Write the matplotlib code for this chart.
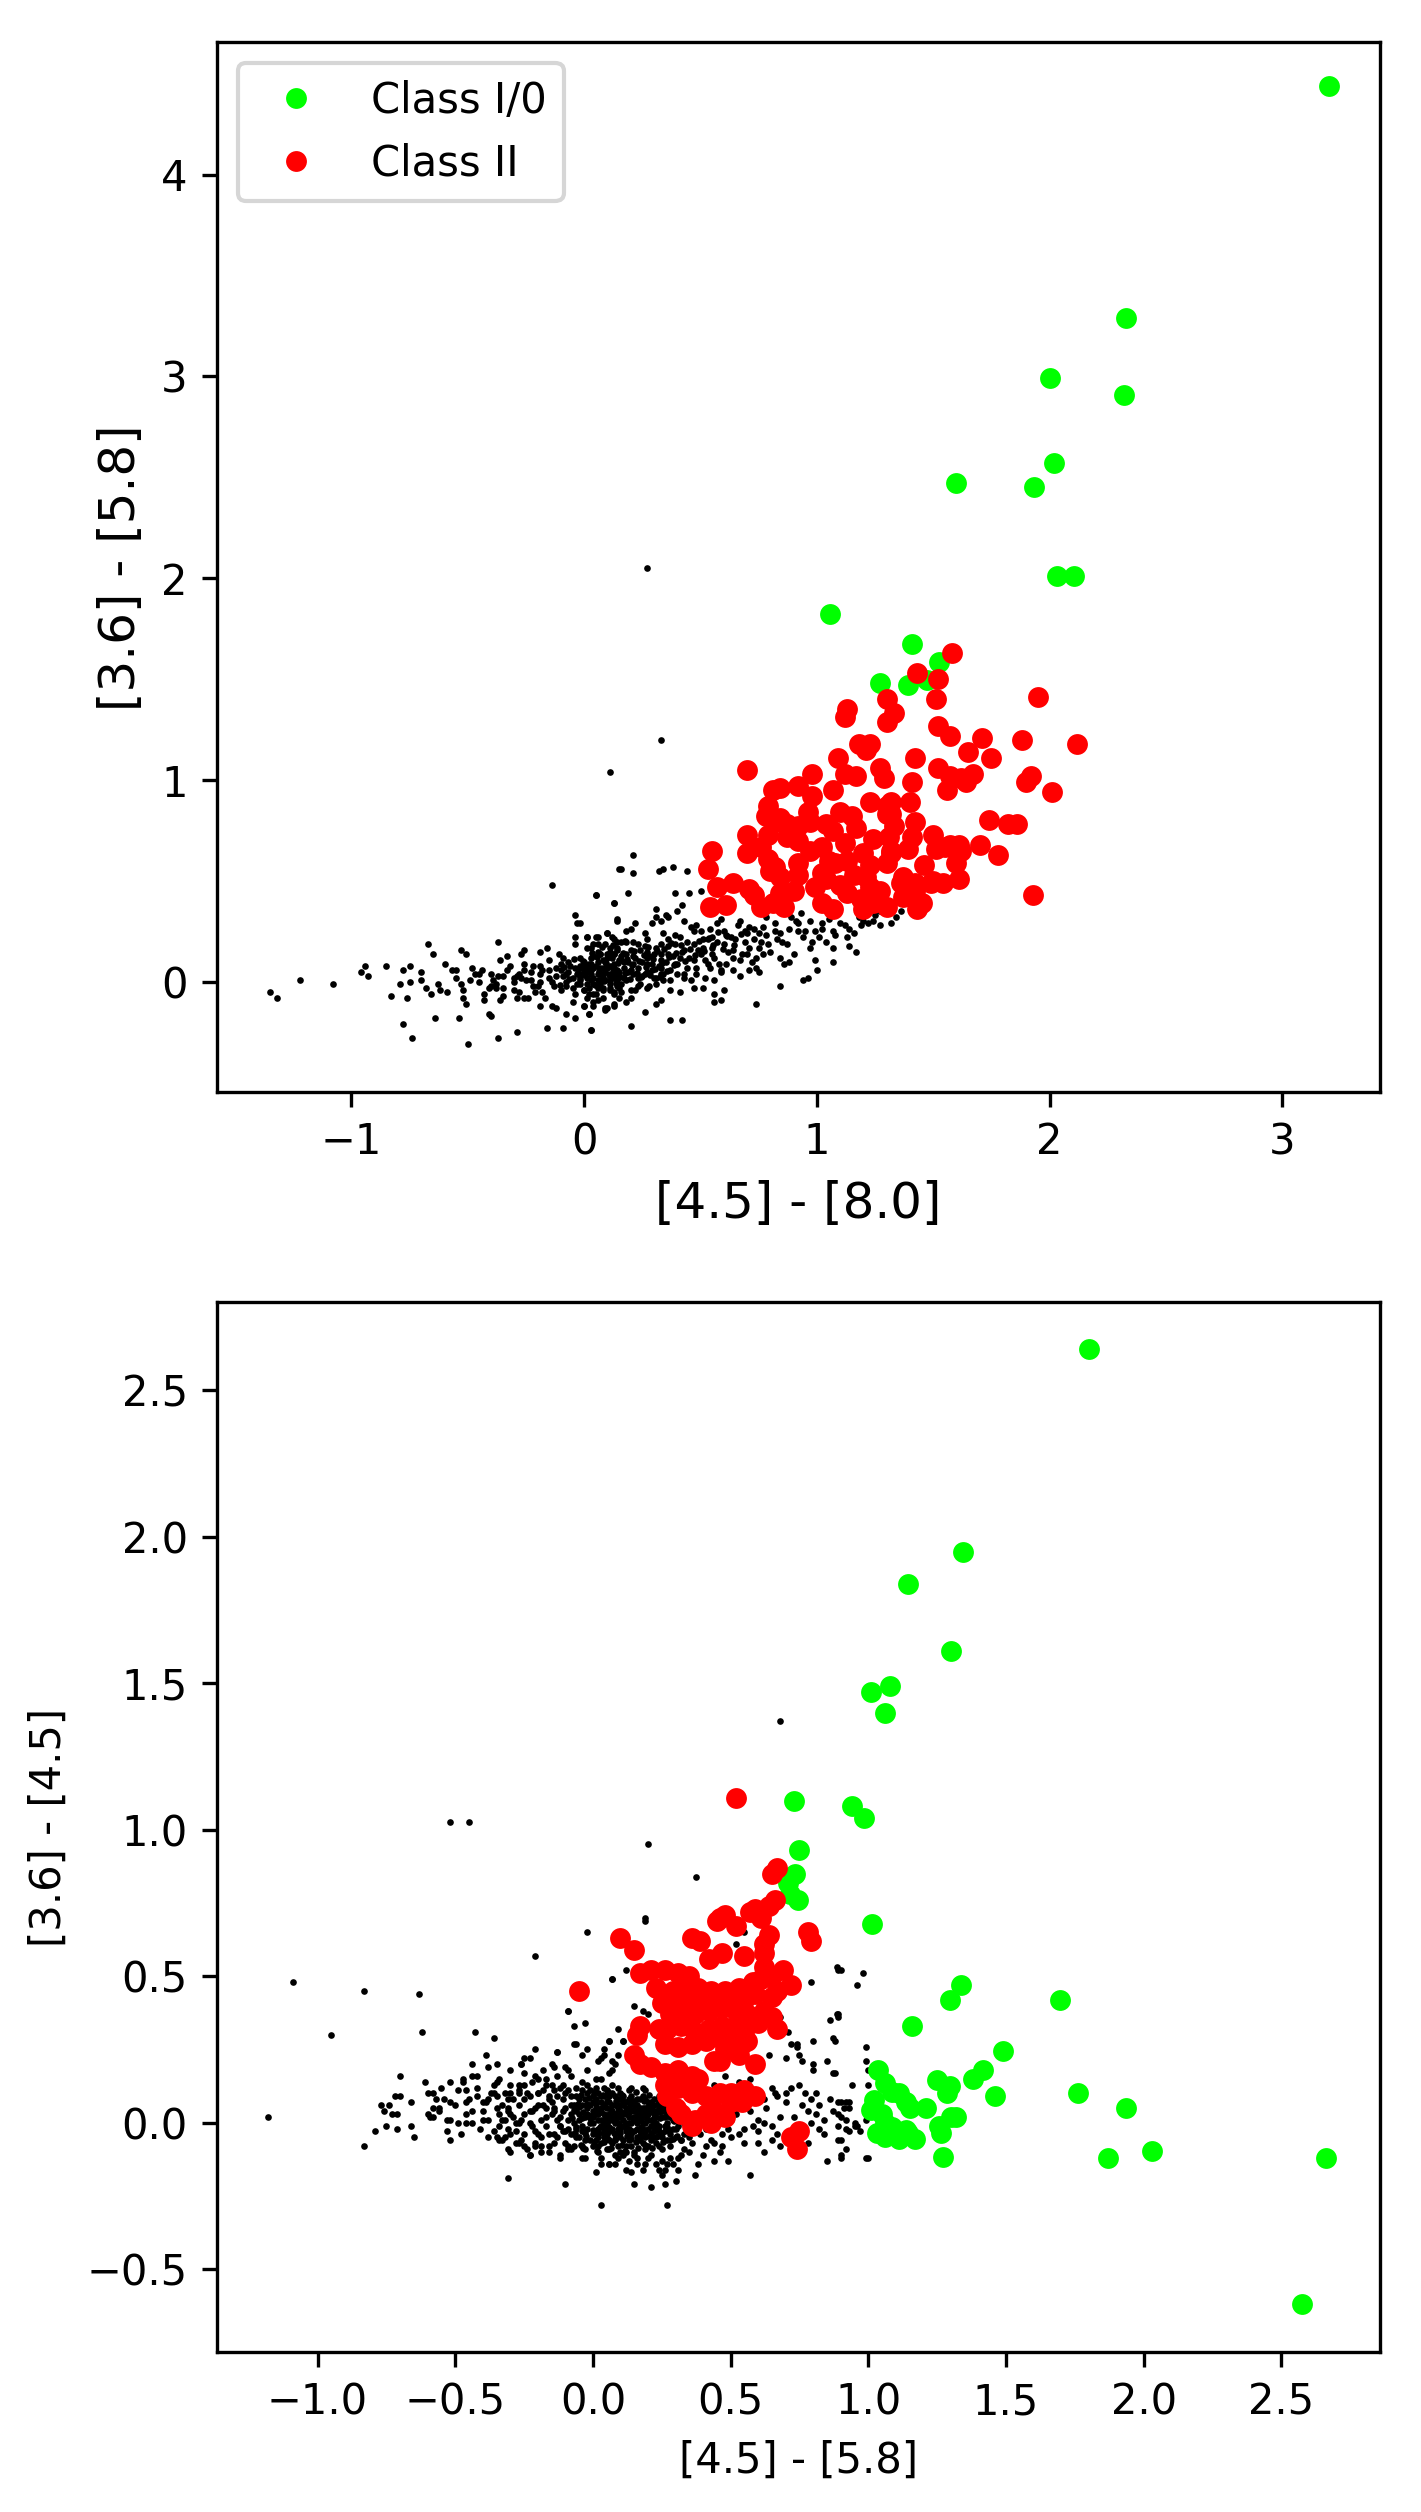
import matplotlib
matplotlib.use("Agg")
import matplotlib.pyplot as plt

# ---------------- top panel data: [4.5]-[8.0] vs [3.6]-[5.8] ----------------
top_green = [(3.20, 4.44), (2.33, 3.29), (2.32, 2.91), (2.00, 2.99), (2.02, 2.57), (1.935, 2.45),
             (1.60, 2.47), (2.03, 2.01), (2.106, 2.012), (1.058, 1.824), (1.409, 1.675), (1.525, 1.587),
             (1.27, 1.48), (1.393, 1.472), (1.474, 1.494)]

top_red = [(1.58, 1.63), (1.43, 1.53), (1.52, 1.50), (1.51, 1.40), (1.30, 1.40), (1.13, 1.35), (1.12, 1.31),
           (1.33, 1.33), (1.30, 1.29), (1.95, 1.41), (1.52, 1.27), (1.57, 1.22), (1.71, 1.21), (1.88, 1.20),
           (2.12, 1.18), (1.18, 1.18), (1.23, 1.18), (1.21, 1.15), (1.65, 1.14), (1.75, 1.11), (1.09, 1.11),
           (1.42, 1.11), (0.98, 1.03), (1.12, 1.03), (1.17, 1.02), (1.27, 1.06), (1.29, 1.01), (1.52, 1.06),
           (1.57, 1.02), (1.62, 1.01), (1.41, 0.99), (1.56, 0.95), (1.64, 0.99), (1.67, 1.03), (1.92, 1.02),
           (1.90, 0.99), (2.01, 0.94), (0.92, 0.97), (1.07, 0.95), (0.84, 0.96), (0.98, 0.92), (1.23, 0.89),
           (1.32, 0.89), (1.40, 0.89), (1.10, 0.84), (1.15, 0.82), (1.74, 0.80), (1.82, 0.78), (1.86, 0.78),
           (1.42, 0.79), (1.30, 0.83), (1.50, 0.73), (1.57, 0.68), (1.70, 0.68), (1.78, 0.63), (1.62, 0.65),
           (1.51, 0.66), (1.39, 0.66), (1.32, 0.65), (1.60, 0.59), (1.61, 0.51), (1.50, 0.50), (1.37, 0.52),
           (1.93, 0.43), (0.70, 1.05), (0.81, 0.95), (0.79, 0.87), (0.78, 0.82), (0.84, 0.81), (0.87, 0.78),
           (0.97, 0.79), (0.92, 0.77), (1.04, 0.78), (1.07, 0.75), (1.30, 0.87), (1.32, 0.83), (1.33, 0.77),
           (1.31, 0.72), (1.55, 0.67), (1.61, 0.68), (0.70, 0.73), (0.70, 0.64), (0.55, 0.65), (0.53, 0.56),
           (0.79, 0.73), (0.76, 0.67), (0.79, 0.61), (0.84, 0.79), (0.87, 0.72), (0.92, 0.70), (0.97, 0.65),
           (1.02, 0.67), (0.82, 0.57), (0.80, 0.55), (0.84, 0.52), (0.92, 0.59), (0.92, 0.53), (1.02, 0.54),
           (1.04, 0.51), (1.08, 0.59), (1.13, 0.60), (1.20, 0.64), (1.23, 0.58), (1.21, 0.52), (1.32, 0.64),
           (1.30, 0.59), (1.42, 0.49), (1.49, 0.49), (1.54, 0.49), (0.57, 0.47), (0.64, 0.49), (0.71, 0.46),
           (0.54, 0.37), (0.61, 0.38), (0.73, 0.43), (0.76, 0.37), (0.81, 0.39), (0.86, 0.37), (0.84, 0.44),
           (0.90, 0.45), (0.99, 0.47), (1.02, 0.39), (1.07, 0.36), (1.13, 0.44), (1.19, 0.41), (1.23, 0.47),
           (1.24, 0.39), (1.30, 0.37), (1.20, 0.36), (1.36, 0.49), (1.37, 0.42), (1.42, 0.45), (1.43, 0.36),
           (1.45, 0.39), (1.17, 0.76), (1.24, 0.71), (1.12, 0.69), (1.05, 0.60), (1.16, 0.53), (1.27, 0.45),
           (1.10, 0.48), (0.96, 0.84), (1.41, 0.72), (1.46, 0.58)]

top_black = [(-1.35, -0.05), (-1.32, -0.08), (-1.22, 0.01), (-1.08, -0.01), (-0.96, 0.05), (-0.94, 0.08),
             (-0.93, 0.03), (-0.85, 0.08), (-0.83, -0.07), (-0.79, -0.01), (-0.78, 0.06), (-0.75, 0.08),
             (-0.76, -0.08), (-0.75, 0.0), (-0.78, -0.21), (-0.74, -0.28), (-0.70, 0.01), (-0.67, 0.19),
             (-0.65, 0.14), (-0.68, -0.03), (-0.66, -0.06), (-0.64, -0.18), (-0.62, -0.04), (-0.59, -0.05),
             (-0.57, 0.06), (-0.55, 0.06), (-0.53, 0.16), (-0.51, 0.14), (-0.53, -0.01), (-0.52, -0.04),
             (-0.52, -0.08), (-0.51, -0.11), (-0.49, 0.01), (-0.48, 0.07), (-0.47, 0.04), (-0.45, 0.04),
             (-0.44, 0.06), (-0.54, -0.18), (-0.50, -0.31), (-0.43, -0.06), (-0.43, -0.09), (-0.41, -0.03),
             (-0.41, -0.16), (-0.40, -0.17), (-0.40, 0.04), (-0.39, 0.01), (-0.38, -0.01), (-0.38, -0.03),
             (-0.37, 0.03), (-0.37, 0.20), (-0.36, 0.11), (-0.35, 0.03), (-0.35, -0.03), (-0.36, -0.09),
             (-0.35, -0.07), (-0.37, -0.28), (-0.33, 0.13), (-0.32, 0.08), (-0.30, 0.02), (-0.30, 0.0),
             (-0.29, 0.03), (-0.28, 0.04), (-0.27, 0.14), (-0.26, 0.16), (-0.26, 0.09), (-0.26, 0.06),
             (-0.25, 0.01), (-0.29, -0.08), (-0.29, -0.25), (-0.28, -0.05), (-0.26, -0.08), (-0.24, -0.08),
             (-0.23, 0.01), (-0.22, 0.08), (-0.22, -0.02), (-0.21, -0.05), (-0.19, 0.15), (-0.19, 0.08),
             (-0.19, 0.04), (-0.19, 0.0), (-0.18, -0.05), (-0.19, -0.12), (-0.17, -0.08), (-0.16, 0.17),
             (-0.16, -0.23), (-0.15, 0.11), (-0.14, 0.48), (-0.15, 0.06), (-0.14, 0.0), (-0.13, -0.02),
             (-0.14, -0.12), (-0.12, -0.13), (-0.12, 0.07), (-0.11, 0.14), (-0.10, 0.09), (-0.09, 0.03),
             (-0.10, -0.04), (-0.09, -0.23), (-0.09, 0.12), (-0.08, 0.0), (-0.07, 0.05), (-0.08, -0.16),
             (-0.06, 0.08), (-0.05, -0.03), (-0.04, -0.06), (-0.05, -0.10), (-0.04, 0.22), (-0.04, 0.33),
             (-0.03, 0.29), (-0.04, 0.19), (-0.04, -0.18), (-0.02, 0.29), (-0.02, 0.01), (0.0, 0.08),
             (0.0, -0.12), (0.01, 0.22), (0.01, 0.02), (0.02, -0.16), (0.02, -0.03), (0.02, -0.06),
             (0.03, 0.17), (0.03, -0.24), (0.04, 0.13), (0.04, -0.10), (0.05, 0.22), (0.05, 0.43),
             (0.06, 0.10), (0.06, 0.19), (0.07, -0.01), (0.08, 0.04), (0.08, -0.04), (0.09, -0.13),
             (0.10, 0.24), (0.10, 0.14), (0.11, 0.08), (0.11, 0.01), (0.12, 0.22), (0.13, 0.39),
             (0.13, -0.06), (0.13, -0.12), (0.14, 0.31), (0.15, 0.11), (0.15, 0.56), (0.14, 0.16),
             (0.13, 0.04), (0.01, 0.07), (0.03, 0.04), (0.06, 0.01), (0.07, 0.07), (0.08, 0.02),
             (0.11, -0.01), (0.12, 0.04), (0.14, 0.01), (0.15, -0.03), (0.11, -0.04), (0.13, 0.07),
             (0.09, 0.10), (0.07, 0.14), (0.04, -0.01), (0.03, 0.06), (0.05, -0.06), (0.06, -0.09),
             (0.08, -0.08), (0.01, -0.08), (0.0, -0.04), (-0.02, -0.01), (-0.03, 0.04), (-0.02, 0.07),
             (0.15, -0.08), (0.13, 0.14), (0.11, 0.17), (0.14, 0.20),
             (0.27, 2.05), (0.33, 1.20), (0.11, 1.04), (0.21, 0.63), (0.16, 0.56), (0.21, 0.54),
             (0.32, 0.55), (0.34, 0.56), (0.38, 0.57), (0.44, 0.55), (0.50, 0.45), (0.45, 0.44),
             (0.39, 0.44), (0.05, 0.43), (0.19, 0.44), (0.13, 0.39), (0.42, 0.38), (0.31, 0.36),
             (0.40, 0.35), (0.35, 0.33), (0.36, 0.32), (0.29, 0.29), (0.31, 0.32), (0.33, 0.30),
             (0.43, 0.30), (0.46, 0.27), (0.48, 0.28), (0.50, 0.25), (0.53, 0.21), (0.55, 0.22),
             (0.57, 0.29), (0.59, 0.31), (0.61, 0.23), (0.63, 0.22), (0.66, 0.28), (0.67, 0.30),
             (0.69, 0.25), (0.71, 0.27), (0.73, 0.26), (0.75, 0.24), (0.77, 0.27), (0.78, 0.32),
             (0.79, 0.19), (0.82, 0.25), (0.83, 0.21), (0.84, 0.24), (0.87, 0.19), (0.89, 0.32),
             (0.91, 0.30), (0.93, 0.34), (0.92, 0.25), (0.94, 0.22), (0.97, 0.30), (0.97, 0.17),
             (0.99, 0.25), (1.01, 0.22), (1.02, 0.29), (1.04, 0.20), (1.07, 0.25), (1.07, 0.17),
             (1.10, 0.29), (1.13, 0.22), (1.14, 0.26), (1.14, 0.18), (1.17, 0.15), (1.19, 0.28),
             (1.22, 0.29), (1.24, 0.30), (1.27, 0.28), (1.32, 0.29), (1.34, 0.32), (1.36, 0.35),
             (1.18, 0.32), (1.23, 0.35), (1.27, 0.35), (0.22, 0.29), (0.18, 0.25), (0.14, 0.30),
             (0.20, 0.26), (0.26, 0.24), (0.16, 0.20), (0.10, 0.24), (0.06, 0.22), (0.01, 0.22),
             (0.13, 0.21), (0.21, 0.20), (0.27, 0.21), (0.34, 0.24), (0.36, 0.21), (0.41, 0.22),
             (0.33, 0.19), (0.39, 0.19), (0.43, 0.16), (0.47, 0.19), (0.51, 0.17), (0.55, 0.17),
             (0.60, 0.19), (0.64, 0.16), (0.69, 0.20), (0.71, 0.17), (0.76, 0.20), (0.73, 0.21),
             (-0.02, 0.12), (0.01, 0.17), (0.04, 0.19), (0.07, 0.14), (0.03, 0.09), (0.0, 0.06),
             (0.06, 0.04), (0.10, 0.12), (0.13, 0.14), (0.16, 0.11), (0.18, 0.14), (0.21, 0.09),
             (0.24, 0.16), (0.27, 0.12), (0.30, 0.14), (0.33, 0.11), (0.36, 0.14), (0.39, 0.09),
             (0.41, 0.12), (0.44, 0.07), (0.47, 0.11), (0.50, 0.14), (0.53, 0.09), (0.56, 0.12),
             (0.59, 0.06), (0.61, 0.09), (0.64, 0.12), (0.67, 0.11), (0.70, 0.14), (0.74, 0.12),
             (0.77, 0.14), (0.84, 0.12), (0.86, 0.09), (0.88, 0.10), (0.67, 0.03), (0.71, 0.06),
             (0.74, 0.07), (0.75, 0.05), (0.64, 0.06), (0.48, 0.04), (0.52, 0.02), (0.56, 0.01),
             (0.59, 0.05), (0.54, 0.07), (0.08, 0.07), (0.11, 0.04), (0.14, 0.06), (0.17, 0.02),
             (0.20, 0.06), (0.23, 0.02), (0.26, 0.04), (0.29, 0.06), (0.31, 0.02), (0.34, 0.04),
             (0.37, 0.01), (0.40, 0.04), (0.43, 0.02), (0.46, 0.01), (0.27, 0.09), (0.33, 0.07),
             (0.07, 0.01), (0.03, 0.01), (-0.02, 0.02), (0.84, -0.02), (0.96, 0.02), (0.94, 0.01),
             (1.00, 0.06), (0.99, 0.11), (1.07, 0.10), (0.0, -0.04), (0.04, -0.06), (0.08, -0.03),
             (0.13, -0.05), (0.16, -0.01), (0.20, -0.04), (0.23, -0.02), (0.27, -0.03), (0.31, -0.01),
             (0.20, -0.08), (0.18, -0.10), (0.13, -0.11), (0.09, -0.14), (0.04, -0.12), (0.0, -0.12),
             (0.02, -0.16), (0.26, -0.15), (0.31, -0.11), (0.33, -0.09), (0.37, -0.04), (0.41, -0.05),
             (0.47, -0.03), (0.51, -0.03), (0.56, -0.06), (0.60, -0.04), (0.56, -0.10), (0.59, -0.09),
             (0.74, -0.11), (0.37, -0.19), (0.42, -0.19), (0.20, -0.22), (0.03, -0.24), (0.10, -0.13)]

top_black_core = [(-0.12, 0.03), (-0.10, 0.06), (-0.08, -0.02), (-0.07, 0.10), (-0.05, 0.02), (-0.04, 0.07),
                  (-0.03, -0.01), (-0.01, 0.04), (0.00, 0.10), (0.01, -0.01), (0.02, 0.05), (0.03, 0.12),
                  (0.04, 0.02), (0.05, 0.08), (0.06, -0.03), (0.07, 0.04), (0.08, 0.11), (0.09, 0.01),
                  (0.10, 0.07), (0.11, 0.15), (0.12, 0.02), (0.13, 0.09), (0.14, -0.02), (0.15, 0.05),
                  (0.16, 0.13), (0.17, 0.07), (0.18, 0.01), (0.19, 0.10), (0.20, 0.16), (0.21, 0.04),
                  (0.22, 0.12), (0.23, 0.07), (0.24, -0.01), (0.25, 0.10), (0.26, 0.18), (0.27, 0.05),
                  (0.28, 0.13), (0.29, 0.09), (0.30, 0.02), (0.31, 0.17), (0.32, 0.08), (0.33, 0.14),
                  (0.34, 0.01), (0.35, 0.10), (0.36, 0.18), (0.37, 0.06), (0.38, 0.13), (0.39, 0.23),
                  (0.40, 0.09), (0.42, 0.15), (0.43, 0.04), (0.44, 0.20), (0.45, 0.12), (0.47, 0.25),
                  (0.48, 0.07), (0.49, 0.16), (0.51, 0.21), (0.52, 0.11), (0.54, 0.26), (0.55, 0.14),
                  (0.57, 0.20), (0.58, 0.09), (0.60, 0.25), (0.62, 0.15), (0.65, 0.21), (0.68, 0.14),
                  (0.70, 0.24), (0.72, 0.10), (0.75, 0.17), (0.78, 0.23), (0.80, 0.15), (0.82, 0.29),
                  (0.85, 0.20), (0.88, 0.26), (0.90, 0.14), (0.92, 0.29), (0.95, 0.25), (0.98, 0.20),
                  (1.02, 0.26), (1.05, 0.31), (1.08, 0.23), (1.12, 0.28), (1.16, 0.24), (1.20, 0.30),
                  (1.25, 0.33), (0.06, 0.15), (0.09, 0.19), (0.14, 0.17), (0.18, 0.20), (0.23, 0.19),
                  (0.02, 0.09), (0.12, 0.12), (0.17, 0.10), (0.27, 0.15), (0.21, 0.13), (0.25, 0.03),
                  (0.19, 0.05), (0.14, 0.03), (0.09, 0.05), (0.04, 0.07), (-0.02, 0.08), (0.11, -0.03),
                  (0.16, -0.05), (0.22, -0.04), (0.28, -0.02), (0.33, 0.04), (-0.08, 0.04), (-0.15, 0.02),
                  (-0.18, 0.06), (-0.20, -0.02), (-0.23, 0.05), (-0.27, 0.02), (-0.30, -0.04), (-0.33, 0.06),
                  (-0.40, -0.02), (-0.45, 0.00), (-0.55, 0.02), (-0.60, 0.09), (-0.63, -0.01), (-0.70, 0.05),
                  (0.005, 0.035), (0.025, 0.085), (0.045, -0.015), (0.055, 0.125), (0.065, 0.055),
                  (0.085, 0.005), (0.095, 0.095), (0.105, 0.035), (0.115, 0.125), (0.125, 0.065),
                  (0.135, -0.005), (0.145, 0.095), (0.155, 0.025), (0.165, 0.145), (0.175, 0.045),
                  (0.185, 0.115), (0.195, 0.015), (0.205, 0.085), (0.215, 0.155), (0.225, 0.045),
                  (0.235, 0.105), (0.245, 0.025), (0.255, 0.135), (0.265, 0.075), (0.275, 0.175),
                  (0.285, 0.035), (0.295, 0.115), (0.305, 0.065), (0.315, 0.155), (0.325, 0.025),
                  (0.335, 0.095), (0.345, 0.165), (0.355, 0.055), (0.365, 0.125), (0.375, 0.195),
                  (0.385, 0.085), (0.395, 0.145), (0.415, 0.185), (0.435, 0.105), (0.455, 0.165),
                  (0.475, 0.135), (0.495, 0.205), (0.515, 0.155), (0.535, 0.215), (0.555, 0.185),
                  (0.575, 0.245), (0.595, 0.165), (0.615, 0.225), (0.645, 0.185), (0.675, 0.235),
                  (-0.005, 0.105), (-0.025, 0.045), (-0.045, 0.115), (-0.065, 0.015), (-0.085, 0.075),
                  (-0.105, -0.015), (0.035, 0.145), (0.075, 0.175), (0.125, 0.185), (0.175, 0.205)]

# ---------------- bottom panel data: [4.5]-[5.8] vs [3.6]-[4.5] ----------------
bot_green = [(1.80, 2.64), (1.345, 1.95), (1.145, 1.84), (1.30, 1.61), (1.01, 1.47), (1.08, 1.49), (1.06, 1.40),
             (0.73, 1.10), (0.94, 1.08), (0.985, 1.04), (0.75, 0.93), (0.735, 0.85), (0.71, 0.82), (0.715, 0.78),
             (0.745, 0.76), (1.015, 0.68), (1.335, 0.47), (1.295, 0.42), (1.695, 0.42), (1.16, 0.33),
             (1.49, 0.245), (1.415, 0.18), (1.38, 0.15), (1.25, 0.145), (1.295, 0.125), (1.285, 0.10),
             (1.46, 0.09), (1.76, 0.10), (1.935, 0.05), (1.035, 0.18), (1.06, 0.135), (1.085, 0.105),
             (1.11, 0.10), (1.02, 0.077), (1.01, 0.043), (1.135, 0.072), (1.15, 0.05), (1.21, 0.05),
             (1.05, 0.03), (1.06, 0.0), (1.30, 0.02), (1.32, 0.018), (1.255, -0.013), (1.03, -0.036),
             (1.06, -0.05), (1.11, -0.054), (1.145, -0.036), (1.17, -0.054), (1.135, -0.025), (1.265, -0.036),
             (1.27, -0.116), (1.87, -0.122), (2.03, -0.096), (2.66, -0.122), (2.575, -0.62), (1.085, -0.014)]

bot_red = [(0.52, 1.11), (0.67, 0.87), (0.65, 0.85), (0.66, 0.76), (0.64, 0.74), (0.59, 0.73), (0.57, 0.72),
           (0.61, 0.70), (0.48, 0.71), (0.46, 0.70), (0.52, 0.67), (0.10, 0.63), (0.36, 0.63), (0.39, 0.62),
           (0.64, 0.64), (0.78, 0.65), (0.45, 0.69), (0.79, 0.62), (0.15, 0.59), (0.62, 0.61), (0.62, 0.58),
           (0.47, 0.58), (0.55, 0.57), (0.42, 0.56), (0.17, 0.51), (0.21, 0.52), (0.26, 0.52), (0.31, 0.51),
           (0.35, 0.50), (0.69, 0.52), (0.72, 0.47), (0.65, 0.50), (0.62, 0.53), (0.23, 0.46), (0.29, 0.45),
           (0.33, 0.47), (0.38, 0.46), (0.43, 0.45), (0.48, 0.45), (0.53, 0.46), (0.58, 0.48), (0.61, 0.49),
           (0.25, 0.41), (0.30, 0.41), (0.35, 0.42), (0.39, 0.43), (0.44, 0.42), (0.50, 0.42), (0.55, 0.42),
           (0.59, 0.44), (0.65, 0.43), (0.67, 0.45), (0.28, 0.37), (0.32, 0.38), (0.37, 0.37), (0.42, 0.38),
           (0.47, 0.39), (0.52, 0.38), (0.56, 0.37), (0.62, 0.38), (0.65, 0.36), (0.67, 0.32), (0.17, 0.33),
           (0.16, 0.30), (0.24, 0.32), (0.27, 0.32), (0.32, 0.33), (0.37, 0.31), (0.42, 0.32), (0.47, 0.33),
           (0.52, 0.33), (0.55, 0.31), (0.60, 0.34), (0.26, 0.27), (0.31, 0.26), (0.36, 0.27), (0.41, 0.28),
           (0.46, 0.29), (0.50, 0.28), (0.54, 0.27), (0.56, 0.28), (0.15, 0.23), (0.17, 0.20), (0.21, 0.19),
           (0.26, 0.17), (0.31, 0.18), (0.36, 0.16), (0.38, 0.15), (0.44, 0.21), (0.48, 0.25), (0.59, 0.20),
           (0.46, 0.21), (0.53, 0.23), (0.26, 0.13), (0.31, 0.12), (0.36, 0.10), (0.41, 0.09), (0.46, 0.10),
           (0.50, 0.10), (0.55, 0.11), (0.59, 0.09), (0.54, 0.07), (0.50, 0.07), (0.27, 0.09), (0.30, 0.05),
           (0.32, 0.03), (0.37, 0.01), (0.41, 0.03), (0.44, 0.04), (0.48, 0.02), (0.43, 0.0), (0.36, -0.01),
           (0.75, -0.03), (0.74, -0.09), (0.72, -0.05), (-0.05, 0.45)]

bot_black = [(-1.18, 0.02), (-1.09, 0.48), (-0.83, 0.45), (-0.63, 0.44), (-0.95, 0.30), (-0.62, 0.31),
             (-0.43, 0.31), (-0.36, 0.29), (-0.21, 0.57), (-0.02, 0.65), (0.07, 0.49), (-0.09, 0.38),
             (-0.07, 0.33), (-0.03, 0.34), (-0.07, 0.27), (-0.70, 0.16), (-0.61, 0.14), (-0.72, 0.09),
             (-0.70, 0.09), (-0.66, 0.07), (-0.77, 0.06), (-0.76, 0.04), (-0.74, 0.06), (-0.73, 0.03),
             (-0.71, 0.03), (-0.75, -0.01), (-0.71, -0.02), (-0.79, -0.03), (-0.66, -0.01), (-0.65, -0.05),
             (-0.83, -0.08), (-0.60, 0.10), (-0.58, 0.10), (-0.57, 0.08), (-0.54, 0.08), (-0.52, 0.07),
             (-0.56, 0.05), (-0.56, 0.04), (-0.60, 0.03), (-0.59, 0.02), (-0.58, 0.02), (-0.53, 0.01),
             (-0.52, 0.01), (-0.49, 0.0), (-0.46, 0.0), (-0.52, -0.06), (-0.47, 0.15), (-0.47, 0.14),
             (-0.44, 0.16), (-0.42, 0.16), (-0.46, 0.11), (-0.42, 0.09), (-0.46, 0.07), (-0.44, 0.04),
             (-0.46, 0.03), (-0.40, 0.01), (-0.39, 0.07), (-0.38, 0.01), (-0.40, 0.07), (-0.38, -0.05),
             (-0.39, 0.23), (-0.38, 0.19), (-0.35, 0.20), (-0.34, 0.15), (-0.36, 0.13), (-0.36, 0.10),
             (-0.34, 0.03), (-0.31, -0.19), (-0.34, -0.06), (-0.33, -0.06), (-0.31, -0.09), (-0.27, -0.07),
             (-0.24, -0.09), (-0.23, -0.11), (-0.21, 0.25), (-0.23, 0.22), (-0.26, 0.20), (-0.25, 0.17),
             (-0.21, 0.16), (-0.20, 0.15), (-0.27, 0.13), (-0.30, 0.10), (-0.31, 0.08), (-0.31, 0.05),
             (-0.30, 0.03), (-0.32, 0.01), (-0.34, -0.01), (-0.31, -0.02), (-0.28, 0.0), (-0.26, 0.01),
             (-0.25, 0.03), (-0.22, 0.04), (-0.23, 0.09), (-0.27, 0.10), (-0.20, 0.10), (-0.21, 0.05),
             (-0.19, 0.01), (-0.20, -0.04), (-0.21, -0.07), (-0.19, -0.08), (-0.16, -0.08), (-0.17, 0.15),
             (-0.15, 0.20), (-0.13, 0.24), (-0.10, 0.19), (-0.08, 0.16), (-0.11, 0.13), (-0.14, 0.11),
             (-0.16, 0.09), (-0.17, 0.05), (-0.15, 0.03), (-0.13, 0.01), (-0.14, -0.04), (-0.10, -0.03),
             (-0.12, -0.12), (-0.10, -0.21), (-0.09, -0.08), (-0.08, -0.09), (-0.04, -0.08), (-0.03, -0.12),
             (0.01, -0.17), (0.03, -0.28), (0.03, -0.12), (0.06, -0.14), (0.08, -0.14),
             (-0.10, 0.10), (-0.08, 0.06), (-0.09, 0.01), (-0.07, -0.04), (-0.06, 0.12), (-0.05, 0.08),
             (-0.05, 0.03), (-0.04, -0.01), (-0.03, -0.06), (-0.02, 0.10), (-0.02, 0.05), (-0.01, 0.0),
             (0.0, -0.04), (0.0, 0.07), (0.01, 0.12), (0.01, 0.03), (0.02, -0.02), (0.02, -0.08),
             (0.03, 0.09), (0.03, 0.05), (0.04, 0.0), (0.04, -0.05), (0.05, 0.11), (0.05, 0.02),
             (0.06, -0.03), (0.06, 0.07), (0.07, 0.04), (0.07, -0.07), (0.08, 0.0), (0.08, 0.09),
             (0.09, -0.02), (0.09, 0.05), (0.10, 0.02), (0.10, -0.05), (0.10, 0.10), (0.11, -0.01),
             (0.11, 0.06), (0.12, 0.03), (0.12, -0.08), (0.13, 0.0), (0.13, 0.08), (0.14, -0.04),
             (0.14, 0.04), (0.15, 0.01), (0.15, -0.10), (0.16, 0.06), (0.16, -0.02), (0.17, 0.03),
             (0.17, -0.06), (0.18, 0.0), (0.18, 0.09), (0.19, -0.03), (0.19, 0.05), (0.20, 0.01),
             (0.20, -0.08), (0.21, 0.07), (0.21, -0.01), (0.22, 0.03), (0.22, -0.05), (0.23, 0.0),
             (0.24, 0.05), (0.24, -0.03), (0.25, 0.02), (0.25, -0.09), (0.26, -0.01), (0.27, 0.04),
             (0.28, -0.04), (0.29, 0.01), (0.30, -0.02), (0.31, 0.03), (0.32, -0.06), (0.33, 0.0),
             (0.34, -0.03), (0.35, 0.02), (-0.11, 0.04), (-0.12, -0.01), (0.0, 0.02), (0.02, 0.01),
             (0.05, -0.01), (0.07, 0.01), (0.09, 0.02), (0.11, 0.03), (0.13, -0.02), (0.15, 0.04),
             (0.17, 0.01), (0.19, 0.02), (0.03, -0.01), (0.06, 0.03), (0.08, -0.04), (0.12, 0.0),
             (0.16, 0.02), (0.04, 0.06), (0.10, 0.06), (0.14, 0.07), (0.18, -0.02), (0.22, 0.06),
             (0.26, 0.06), (0.28, 0.02), (0.20, 0.04), (0.23, -0.07), (0.27, -0.06), (-0.06, -0.02),
             (-0.03, 0.02), (0.01, -0.06), (0.06, -0.09), (0.11, -0.11), (0.16, -0.12), (0.21, -0.11),
             (0.13, 0.11), (0.07, 0.13), (0.01, 0.15), (-0.04, 0.14), (0.19, 0.11), (0.24, 0.09),
             (0.30, 0.07), (0.33, 0.05),
             (0.19, 0.69), (0.55, 0.65), (0.52, 0.61), (0.12, 0.52), (0.07, 0.49), (0.15, 0.40),
             (0.18, 0.38), (0.20, 0.37), (0.09, 0.32), (0.06, 0.28), (0.11, 0.28), (0.04, 0.23),
             (0.02, 0.21), (0.07, 0.21), (0.09, 0.23), (0.06, 0.17), (0.08, 0.20), (0.03, 0.15),
             (0.68, 0.36), (0.71, 0.31), (0.72, 0.27), (0.74, 0.26), (0.80, 0.28), (0.79, 0.48),
             (0.89, 0.52), (0.98, 0.51), (0.96, 0.47), (0.86, 0.35), (0.89, 0.37), (0.88, 0.28),
             (0.85, 0.21), (0.87, 0.17), (0.88, 0.17), (0.76, 0.21), (0.80, 0.20), (0.80, 0.18),
             (0.70, 0.22), (0.75, 0.23), (0.64, 0.23), (0.57, 0.15), (0.53, 0.14), (0.48, 0.16),
             (0.44, 0.13), (0.60, 0.10), (0.62, 0.08), (0.65, 0.12), (0.67, 0.09), (0.70, 0.10),
             (0.72, 0.12), (0.75, 0.13), (0.77, 0.10), (0.79, 0.08), (0.81, 0.10), (0.78, 0.04),
             (0.81, 0.03), (0.82, -0.02), (0.84, 0.01), (0.87, 0.04), (0.89, 0.07), (0.92, 0.07),
             (0.93, 0.05), (0.89, 0.03), (0.89, -0.01), (0.92, -0.02), (0.89, -0.06), (0.90, -0.12),
             (0.85, -0.13), (0.95, 0.0), (0.99, 0.26), (0.99, 0.21), (1.00, 0.13), (0.94, 0.13),
             (0.96, -0.01), (0.99, -0.12), (0.78, -0.07), (0.75, -0.05), (0.70, -0.05), (0.67, -0.04),
             (0.65, -0.01), (0.62, 0.0), (0.60, 0.01), (0.58, -0.01), (0.55, -0.02), (0.53, -0.04),
             (0.50, 0.01), (0.52, 0.03), (0.60, -0.07), (0.57, -0.18), (0.47, -0.04), (0.49, -0.02),
             (0.44, -0.07), (0.41, -0.08), (0.49, -0.13), (0.46, -0.10), (0.37, -0.18), (0.27, -0.28),
             (0.15, -0.21), (0.21, -0.22), (0.26, -0.21), (0.30, -0.20), (0.29, -0.14), (0.26, -0.16),
             (0.23, -0.14), (0.20, -0.12), (0.16, -0.14), (0.13, -0.13), (0.09, -0.12), (0.06, -0.14),
             (0.03, -0.14), (0.14, -0.17), (0.18, -0.16), (0.25, -0.18), (0.31, -0.12), (0.33, -0.09),
             (0.36, -0.07), (0.32, -0.06), (0.28, -0.08), (0.90, 0.52), (0.89, 0.36),
             (0.90, 0.07), (0.93, 0.07), (0.91, 0.05), (0.90, 0.02),
             (0.92, 0.01), (0.95, -0.01), (0.97, -0.03), (0.93, -0.03), (0.90, -0.06), (0.92, -0.09),
             (0.90, -0.11), (1.00, -0.12), (0.99, 0.01), (0.12, -0.16), (0.19, -0.14), (0.24, -0.16),
             (0.27, -0.14), (0.31, -0.16), (-0.04, -0.12), (-0.09, -0.09), (-0.12, -0.11),
             (-0.25, -0.08), (-0.23, -0.11), (-0.28, -0.07), (-0.30, -0.10), (-0.35, -0.05),
             (-0.26, 0.20), (-0.13, 0.24), (-0.14, 0.19), (-0.09, 0.18), (-0.09, 0.38),
             (-0.06, 0.27), (-0.04, 0.23), (-0.02, 0.25), (-0.02, 0.18), (0.03, 0.22), (0.04, 0.25),
             (0.07, 0.18), (0.06, 0.28), (0.11, 0.28), (-0.38, 0.08), (-0.35, 0.09),
             (-0.32, 0.10), (-0.35, 0.05), (-0.31, 0.04), (-0.29, 0.08), (-0.27, 0.11), (-0.25, 0.13),
             (-0.25, 0.08), (-0.23, 0.04), (-0.20, 0.10), (-0.17, 0.13), (-0.18, 0.06), (-0.16, 0.08),
             (-0.14, 0.04), (-0.33, 0.01), (-0.27, 0.00), (-0.22, -0.01), (-0.17, -0.01), (-0.12, -0.01),
             (-0.30, -0.04), (-0.25, -0.04), (-0.19, -0.05), (-0.13, -0.05), (-0.21, -0.08), (-0.16, -0.10),
             (-0.52, 1.025), (-0.45, 1.025), (0.20, 0.95), (0.375, 0.84), (0.68, 1.37), (0.19, 0.70),
             (0.885, 0.53), (0.885, 0.37), (0.87, 0.29), (0.74, 0.27), (1.00, 0.18)]

bot_black_core = [(-0.14, 0.05), (-0.13, 0.09), (-0.12, 0.02), (-0.11, -0.03), (-0.11, 0.08), (-0.10, 0.05),
                  (-0.10, -0.07), (-0.09, 0.11), (-0.09, -0.02), (-0.08, 0.03), (-0.08, 0.09), (-0.07, 0.00),
                  (-0.07, 0.06), (-0.07, -0.08), (-0.06, 0.04), (-0.06, 0.09), (-0.05, -0.05), (-0.05, 0.01),
                  (-0.04, 0.06), (-0.04, 0.11), (-0.04, -0.03), (-0.03, 0.08), (-0.03, -0.09), (-0.02, 0.03),
                  (-0.02, -0.02), (-0.01, 0.06), (-0.01, -0.06), (-0.01, 0.11), (0.00, 0.04), (0.00, 0.00),
                  (0.00, 0.09), (0.01, -0.03), (0.01, 0.05), (0.01, 0.08), (0.02, 0.03), (0.02, -0.05),
                  (0.02, 0.10), (0.03, 0.01), (0.03, -0.07), (0.03, 0.07), (0.04, 0.03), (0.04, -0.02),
                  (0.04, 0.09), (0.05, 0.05), (0.05, -0.04), (0.05, 0.00), (0.06, 0.09), (0.06, 0.01),
                  (0.06, -0.06), (0.07, 0.06), (0.07, -0.02), (0.07, 0.10), (0.08, 0.03), (0.08, -0.06),
                  (0.08, 0.06), (0.09, 0.00), (0.09, 0.08), (0.09, -0.08), (0.10, 0.04), (0.10, -0.02),
                  (0.10, 0.08), (0.11, 0.01), (0.11, -0.06), (0.11, 0.09), (0.12, 0.05), (0.12, -0.03),
                  (0.12, 0.07), (0.13, 0.02), (0.13, -0.06), (0.13, 0.05), (0.14, 0.00), (0.14, 0.09),
                  (0.14, -0.08), (0.15, 0.06), (0.15, -0.03), (0.15, 0.02), (0.16, 0.08), (0.16, -0.05),
                  (0.16, 0.00), (0.17, 0.05), (0.17, -0.03), (0.17, 0.08), (0.18, 0.02), (0.18, -0.07),
                  (0.18, 0.05), (0.19, 0.00), (0.19, 0.08), (0.19, -0.05), (0.20, 0.03), (0.20, -0.02),
                  (0.20, 0.07), (0.21, 0.01), (0.21, -0.06), (0.21, 0.04), (0.22, 0.00), (0.22, 0.08),
                  (0.22, -0.03), (0.23, 0.04), (0.23, -0.05), (0.23, 0.02), (0.24, 0.07), (0.24, -0.01),
                  (0.25, 0.04), (0.25, -0.05), (0.26, 0.02), (0.26, -0.03), (0.27, 0.06), (0.27, 0.00),
                  (0.28, 0.03), (0.28, -0.06), (0.29, 0.05), (0.29, -0.02), (0.30, 0.02), (0.30, -0.05),
                  (0.31, 0.05), (0.31, -0.01), (0.32, 0.02), (0.33, -0.04), (0.33, 0.03), (0.34, 0.00),
                  (0.35, -0.05), (0.36, 0.03), (0.37, -0.02), (0.38, 0.02), (0.39, -0.04), (0.40, 0.01),
                  (0.41, -0.02), (0.42, 0.03), (0.10, -0.10), (0.05, -0.09), (0.15, -0.11), (0.19, -0.09),
                  (0.24, -0.08), (0.00, -0.08), (-0.02, 0.13), (0.04, 0.12), (0.09, 0.12), (0.14, 0.12),
                  (0.18, 0.12), (0.12, -0.10), (0.08, -0.11), (0.02, -0.10), (-0.06, -0.05), (-0.08, -0.04),
                  (-0.58, 0.05), (-0.55, 0.12), (-0.53, -0.03), (-0.50, 0.06), (-0.49, 0.11), (-0.48, -0.04),
                  (-0.45, 0.08), (-0.44, 0.00), (-0.42, 0.12), (-0.41, -0.02), (-0.40, 0.04), (-0.37, 0.10),
                  (-0.36, -0.03), (-0.35, 0.14), (-0.33, 0.06), (-0.32, -0.05), (-0.30, 0.13), (-0.29, 0.02),
                  (-0.28, -0.03), (-0.27, 0.06), (-0.26, -0.06), (-0.24, 0.10), (-0.23, 0.00), (-0.22, 0.14),
                  (-0.21, -0.03), (-0.20, 0.06), (-0.19, -0.10), (-0.18, 0.11), (-0.17, 0.02), (-0.16, -0.04),
                  (-0.15, 0.07), (-0.15, 0.13), (-0.14, -0.07), (-0.13, 0.16), (-0.12, 0.12), (-0.18, 0.18),
                  (-0.25, 0.22), (-0.30, 0.18), (-0.44, 0.20), (-0.52, 0.14),
                  (0.43, -0.06), (0.45, 0.06), (0.47, -0.08), (0.50, -0.05), (0.52, 0.05), (0.55, -0.07),
                  (0.57, 0.04), (0.60, -0.03), (0.63, 0.05), (0.65, -0.06), (0.68, 0.02), (0.70, 0.07),
                  (0.73, 0.02), (0.76, 0.06), (0.79, 0.00), (0.82, 0.06), (0.84, -0.04), (0.86, 0.08),
                  (0.40, -0.11), (0.44, -0.13), (0.35, -0.10), (0.38, -0.14), (0.32, -0.11), (0.28, -0.12),
                  (0.25, -0.13), (0.62, -0.10), (0.68, -0.08), (0.58, 0.09), (0.66, 0.10)]

bot_black_core2 = [(-0.075, 0.015), (-0.065, -0.035), (-0.055, 0.065), (-0.045, -0.075), (-0.035, 0.035),
                   (-0.025, -0.045), (-0.015, 0.085), (-0.005, 0.025), (0.005, -0.065), (0.015, 0.045),
                   (0.025, -0.015), (0.035, 0.095), (0.045, 0.015), (0.055, -0.055), (0.065, 0.045),
                   (0.075, -0.035), (0.085, 0.075), (0.095, -0.005), (0.105, -0.075), (0.115, 0.035),
                   (0.125, -0.045), (0.135, 0.065), (0.145, 0.015), (0.155, -0.065), (0.165, 0.045),
                   (0.175, -0.015), (0.185, 0.075), (0.195, 0.025), (0.205, -0.045), (0.215, 0.055),
                   (0.225, -0.025), (0.235, 0.065), (0.245, 0.015), (0.255, -0.065), (0.265, 0.035),
                   (0.275, -0.025), (0.285, 0.065), (0.295, 0.005), (0.305, -0.045), (0.315, 0.025),
                   (-0.07, 0.045), (-0.06, -0.015), (-0.05, 0.055), (-0.04, 0.015), (-0.03, -0.035),
                   (-0.02, 0.065), (-0.01, 0.015), (0.0, -0.025), (0.01, 0.065), (0.02, -0.035),
                   (0.03, 0.035), (0.04, -0.065), (0.05, 0.075), (0.06, -0.015), (0.07, 0.025),
                   (0.08, -0.055), (0.09, 0.035), (0.10, -0.035), (0.11, 0.075), (0.12, -0.015),
                   (0.13, 0.035), (0.14, -0.055), (0.15, 0.075), (0.16, 0.035), (0.17, -0.045),
                   (0.18, 0.035), (0.19, -0.075), (0.20, 0.055), (0.21, -0.035), (0.22, 0.015),
                   (0.23, -0.015), (0.24, 0.035), (0.25, -0.035), (0.26, 0.045), (0.27, -0.015),
                   (0.28, 0.045), (0.29, -0.055), (0.30, 0.035), (-0.045, 0.095), (0.005, 0.105),
                   (0.055, 0.105), (0.105, 0.095), (0.155, 0.105), (0.205, 0.095), (-0.035, -0.085),
                   (0.015, -0.095), (0.065, -0.085), (0.115, -0.095), (0.165, -0.085), (0.215, -0.085),
                   (0.035, -0.035), (0.085, 0.015), (0.135, -0.025), (0.185, -0.035), (0.235, -0.045),
                   (0.045, 0.055), (0.095, 0.055), (0.145, 0.045), (0.195, 0.045), (0.245, 0.055)]

top_green_x, top_green_y = zip(*top_green)
top_red_x, top_red_y = zip(*top_red)
top_black_x, top_black_y = zip(*(top_black + top_black_core))
bot_green_x, bot_green_y = zip(*bot_green)
bot_red_x, bot_red_y = zip(*bot_red)
bot_black_x, bot_black_y = zip(*(bot_black + bot_black_core + bot_black_core2))

GREEN = "#00ff00"
RED = "#ff0000"
DOT = 1.6
BIG = 5

fig = plt.figure(figsize=(1421 / 300, 2512 / 300), dpi=300)
ax1 = fig.add_axes([0.15271, 0.56517, 0.81809, 0.41799])
ax2 = fig.add_axes([0.15271, 0.06357, 0.81809, 0.41799])

# top panel
ax1.plot(top_black_x, top_black_y, "o", color="black", ms=DOT, mew=0, linestyle="none")
ax1.plot(top_green_x, top_green_y, "o", color=GREEN, ms=BIG, mew=0, linestyle="none", label="Class I/0")
ax1.plot(top_red_x, top_red_y, "o", color=RED, ms=BIG, mew=0, linestyle="none", label="Class II")
ax1.set_xlim(-1.578, 3.418)
ax1.set_ylim(-0.547, 4.655)
ax1.set_xticks([-1, 0, 1, 2, 3])
ax1.set_yticks([0, 1, 2, 3, 4])
ax1.set_xlabel("[4.5] - [8.0]", fontsize=12)
ax1.set_ylabel("[3.6] - [5.8]", fontsize=12)
ax1.tick_params(labelsize=10)
ax1.legend(loc="upper left", fontsize=10)

# bottom panel
ax2.plot(bot_black_x, bot_black_y, "o", color="black", ms=DOT, mew=0, linestyle="none")
ax2.plot(bot_green_x, bot_green_y, "o", color=GREEN, ms=BIG, mew=0, linestyle="none")
ax2.plot(bot_red_x, bot_red_y, "o", color=RED, ms=BIG, mew=0, linestyle="none")
ax2.set_xlim(-1.365, 2.856)
ax2.set_ylim(-0.784, 2.801)
ax2.set_xticks([-1.0, -0.5, 0.0, 0.5, 1.0, 1.5, 2.0, 2.5])
ax2.set_yticks([-0.5, 0.0, 0.5, 1.0, 1.5, 2.0, 2.5])
ax2.set_xlabel("[4.5] - [5.8]", fontsize=10)
ax2.set_ylabel("[3.6] - [4.5]", fontsize=10)
ax2.tick_params(labelsize=10)

fig.savefig("out.png", dpi=300)
